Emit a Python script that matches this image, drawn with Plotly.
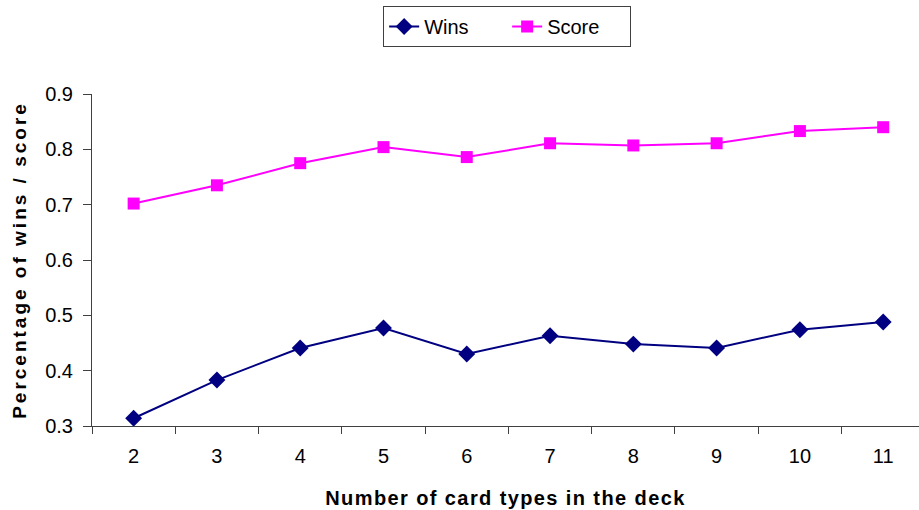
import plotly.graph_objects as go

# Number of card types in the deck
card_types = ["2", "3", "4", "5", "6", "7", "8", "9", "10", "11"]

# Fraction of games won
wins = [0.314, 0.383, 0.441, 0.477, 0.430, 0.463, 0.448, 0.441, 0.474, 0.488]

# Average score
score = [0.702, 0.735, 0.775, 0.804, 0.786, 0.811, 0.807, 0.811, 0.833, 0.840]

y_ticks = [0.3, 0.4, 0.5, 0.6, 0.7, 0.8, 0.9]

NAVY = "#000080"
MAGENTA = "#FF00FF"
AXIS_COLOR = "#404040"
FONT = "Liberation Sans, Arial, sans-serif"

fig = go.Figure()
fig.add_trace(go.Scatter(
    x=card_types, y=wins, name="Wins", mode="lines+markers",
    line=dict(color=NAVY, width=2),
    marker=dict(symbol="diamond", size=13, color=NAVY),
))
fig.add_trace(go.Scatter(
    x=card_types, y=score, name="Score", mode="lines+markers",
    line=dict(color=MAGENTA, width=2),
    marker=dict(symbol="square", size=12, color=MAGENTA),
))

fig.update_layout(
    width=919, height=510,
    margin=dict(l=92, r=0, t=94, b=84),
    paper_bgcolor="white", plot_bgcolor="white",
    font=dict(family=FONT, size=20, color="black"),
    showlegend=True,
    legend=dict(
        orientation="h", x=0.502, xanchor="center", y=1.265, yanchor="top",
        bordercolor="#404040", borderwidth=1, bgcolor="white",
        font=dict(size=20), entrywidth=78, entrywidthmode="pixels",
        tracegroupgap=0,
    ),
)

fig.update_xaxes(
    type="category", categoryorder="array", categoryarray=card_types,
    range=[-0.5, 9.43], tickson="boundaries",
    showline=True, linecolor=AXIS_COLOR, linewidth=1,
    ticks="outside", ticklen=7, tickcolor=AXIS_COLOR,
    showgrid=False, zeroline=False,
    tickfont=dict(size=20), ticklabelstandoff=12,
    title=dict(
        text='<b><span style="letter-spacing:1.4px">Number of card types in the deck</span></b>',
        font=dict(size=20), standoff=24,
    ),
)
fig.update_yaxes(
    range=[0.3, 0.9], tickvals=y_ticks, tickformat=".1f",
    showline=True, linecolor=AXIS_COLOR, linewidth=1,
    ticks="outside", ticklen=8, tickcolor=AXIS_COLOR,
    showgrid=False, zeroline=False,
    tickfont=dict(size=20), ticklabelstandoff=6,
    title=dict(
        text='<b><span style="letter-spacing:3px">Percentage of wins / score</span></b>',
        font=dict(size=19), standoff=13,
    ),
)

fig.write_html("out.html")
